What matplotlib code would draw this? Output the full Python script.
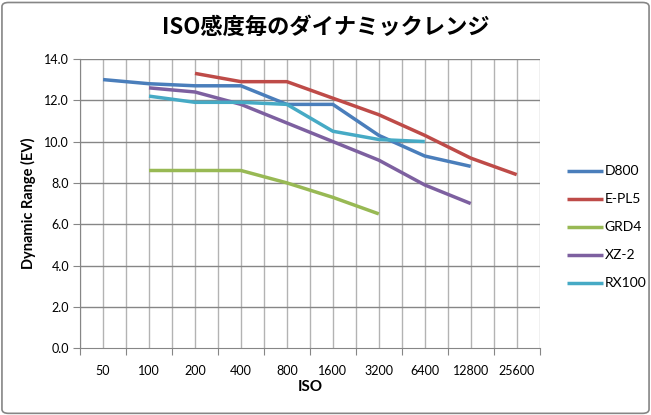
import matplotlib
matplotlib.use("Agg")
import matplotlib.pyplot as plt
from matplotlib.patches import FancyBboxPatch
import numpy as np

plt.rcParams['font.family'] = ['Lato', 'Noto Sans CJK JP', 'DejaVu Sans']

iso_labels = ['50', '100', '200', '400', '800', '1600', '3200', '6400', '12800', '25600']

# values per ISO step (None = no data)
d800 = [13.0, 12.8, 12.7, 12.7, 11.8, 11.8, 10.3, 9.3, 8.8, None]
epl5 = [None, None, 13.3, 12.9, 12.9, 12.1, 11.3, 10.3, 9.2, 8.4]
grd4 = [None, 8.6, 8.6, 8.6, 8.0, 7.3, 6.5, None, None, None]
xz2 = [None, 12.6, 12.4, 11.8, 10.9, 10.0, 9.1, 7.9, 7.0, None]
rx100 = [None, 12.2, 11.9, 11.9, 11.8, 10.5, 10.1, 10.0, None, None]

series = [('D800', d800, '#4a7ebb'),
          ('E-PL5', epl5, '#be4b48'),
          ('GRD4', grd4, '#98b954'),
          ('XZ-2', xz2, '#7d60a0'),
          ('RX100', rx100, '#46aac5')]

fig = plt.figure(figsize=(6.51, 4.15), dpi=100)
ax = fig.add_axes([0.123, 0.161, 0.706, 0.697])

x = np.arange(len(iso_labels))
for name, vals, col in series:
    y = np.array([np.nan if v is None else v for v in vals])
    ax.plot(x, y, color=col, lw=2.5, label=name, solid_capstyle='butt')

ax.set_xlim(-0.5, len(iso_labels) - 0.5)
ax.set_ylim(0, 14)
ax.set_yticks(np.arange(0, 14.1, 2))
ax.set_yticklabels([f'{v:.1f}' for v in np.arange(0, 14.1, 2)])

# category boundaries as major ticks, centres carry the labels
ax.set_xticks(np.arange(-0.5, len(iso_labels), 1))
ax.set_xticklabels([])
ax.set_xticks(x, minor=True)
ax.set_xticklabels(iso_labels, minor=True)
ax.tick_params(axis='x', which='major', length=5, color='#868686')
ax.tick_params(axis='x', which='minor', length=0, pad=12, labelsize=9)
ax.tick_params(axis='y', length=5, color='#868686', labelsize=9, pad=3)

# gridlines
for xv in np.arange(-0.5, len(iso_labels), 0.5):
    ax.axvline(xv, color='#b3b3b3', lw=1, zorder=0)
for yv in np.arange(2, 14.1, 2):
    ax.axhline(yv, color='#868686', lw=1, zorder=0)

for s in ['top', 'right']:
    ax.spines[s].set_visible(False)
ax.spines['left'].set_color('#868686')
ax.spines['bottom'].set_color('#868686')

ax.set_xlabel('ISO', fontsize=11, fontweight='bold', labelpad=2)
ax.set_ylabel('Dynamic Range (EV)', fontsize=10.5, fontweight='bold', labelpad=6)

fig.text(0.5, 0.935, 'ISO感度毎のダイナミックレンジ', ha='center', va='center',
         fontsize=16, fontweight='bold', family=['Noto Sans CJK JP', 'DejaVu Sans'])

leg = fig.legend(loc='center left', bbox_to_anchor=(0.852, 0.452), frameon=False,
                 fontsize=10, handlelength=2.6, handletextpad=0.1, labelspacing=1.15)

fig.patches.append(FancyBboxPatch((0.003, 0.004), 0.994, 0.99, boxstyle='round,pad=0,rounding_size=0.01',
                                  transform=fig.transFigure, fill=False, edgecolor='#868686', lw=1.2))

fig.savefig('out.png', dpi=100)
